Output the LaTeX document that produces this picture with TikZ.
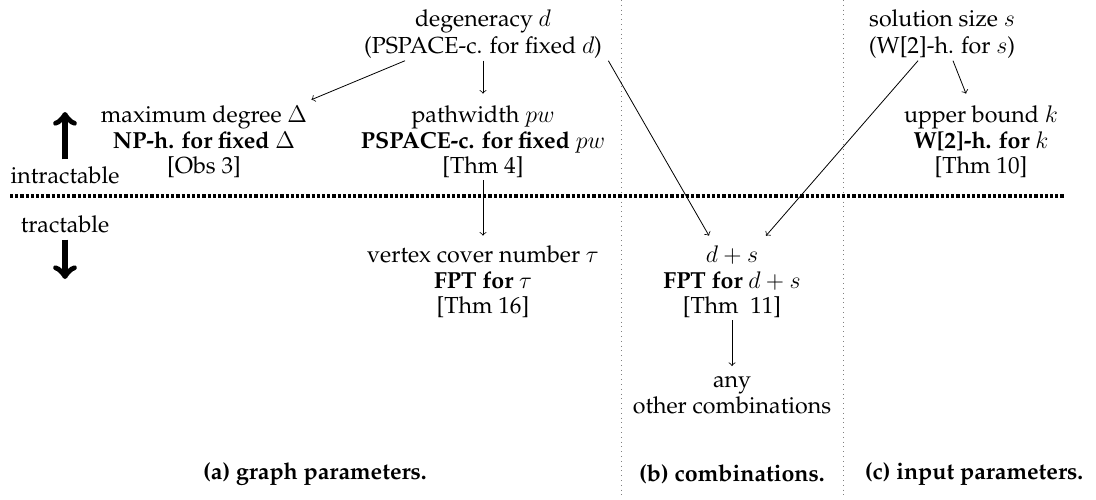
\documentclass[tikz,border=0pt]{standalone}
\usepackage{amsmath}
\usepackage{amssymb}
\usepackage[T1]{fontenc}
\usepackage{palatino}
\usetikzlibrary{positioning}

\newcommand{\figfont}{\fontsize{11.6pt}{12.7pt}\selectfont}

\tikzset{
  param/.style={align=center,inner sep=1pt},
  caption/.style={font=\figfont\bfseries},
  sep/.style={gray,dotted,thin},
  bigarrow/.style={->,line width=3pt}
}

\begin{document}
\begin{tikzpicture}[x=0.5pt,y=-0.5pt,font=\figfont]
  \useasboundingbox (0,0) rectangle (1096,499);
  % separators
  \draw[sep] (621,0) -- (621,499);
  \draw[sep] (843,0) -- (843,499);
  \draw[ultra thick,densely dotted] (10,196) -- (1065,196);

  % top row
  \node[param] (deg) at (483,34) {degeneracy $d$\\[0.8pt] (PSPACE-c. for fixed $d$)};
  \node[param] (sol) at (942,34) {solution size $s$\\[0.8pt] (W[2]-h. for $s$)};
  % intractable
  \node[param] (maxdeg) at (204,142) {maximum degree $\Delta$\\ \textbf{NP-h. for fixed} $\Delta$\\ {[Obs 3]}};
  \node[param] (pw) at (483,142) {pathwidth $pw$\\ \textbf{PSPACE-c. for fixed} $pw$\\ {[Thm 4]}};
  \node[param] (ub) at (981,142) {upper bound $k$\\ \textbf{W[2]-h. for} $k$\\ {[Thm 10]}};
  % tractable
  \node[param] (vc) at (483,282) {vertex cover number $\tau$\\ \textbf{FPT for} $\tau$\\ {[Thm 16]}};
  \node[param] (ds) at (732,282) {$d+s$\\ \textbf{FPT for} $d+s$\\ {[Thm~ 11]}};
  \node[param] (any) at (732,395) {any\\ other combinations};

  % labels
  \node (intr) at (65,175) {intractable};
  \node (tract) at (65,224) {tractable};
  \coordinate (up) at (65,112);
  \coordinate (down) at (65,279);
  \draw[bigarrow] (intr.north) -- (up);
  \draw[bigarrow] (tract.south) -- (down);

  \node[caption] (capa) at (315,474) {(a) graph parameters.};
  \node[caption] (capb) at (732,474) {(b) combinations.};
  \node[caption] (capc) at (974,474) {(c) input parameters.};

  % implications
  \draw[->] ([xshift=-39pt]deg.south) -- ([xshift=1pt,yshift=2pt]maxdeg.north east);
  \draw[->] (deg.south) -- ([yshift=5pt]pw.north);
  \draw[->] ([xshift=2pt]deg.south east) -- ([xshift=-11.5pt,yshift=4pt]ds.north);
  \draw[->] ([xshift=-12pt]sol.south) -- ([xshift=17pt,yshift=4pt]ds.north);
  \draw[->] ([xshift=5.5pt]sol.south) -- ([xshift=-7.5pt,yshift=5pt]ub.north);
  \draw[->] (pw.south) -- ([yshift=4pt]vc.north);
  \draw[->] (ds.south) -- ([yshift=4pt]any.north);
\end{tikzpicture}
\end{document}
